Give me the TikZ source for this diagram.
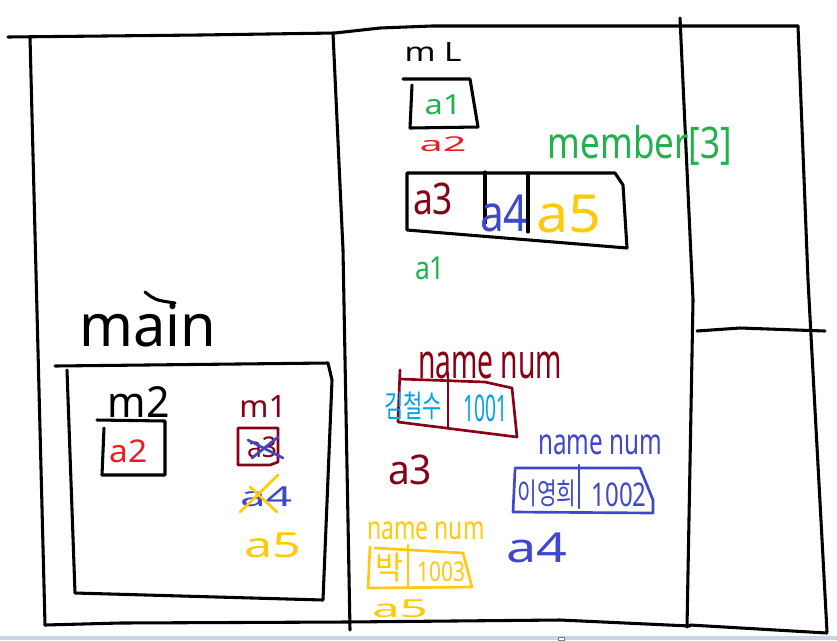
\documentclass[tikz,border=0pt]{standalone}
\usepackage{fontspec}
\usepackage{graphicx}
\setmainfont{Noto Sans}
\newfontfamily\kofont{Noto Sans CJK KR}
\definecolor{pdred}{HTML}{880015}
\definecolor{pred}{HTML}{ED1C24}
\definecolor{pgreen}{HTML}{22B14C}
\definecolor{pblue}{HTML}{3F48CC}
\definecolor{pyellow}{HTML}{FFC90E}
\definecolor{pcyan}{HTML}{00A2E8}
\definecolor{uibar}{HTML}{C9D3E2}
\newlength\pxu
\setlength\pxu{0.75pt}
\newcommand{\fitt}[3]{\resizebox*{#1\pxu}{#2\pxu}{#3}}
\tikzset{
  ink/.style={line width=2.3pt, line cap=round, line join=round, black},
  cink/.style={line width=2pt, line cap=round, line join=round},
  lbl/.style={inner sep=0pt, outer sep=0pt, anchor=center}
}
\begin{document}
\begin{tikzpicture}[x=0.75pt,y=-0.75pt]
\useasboundingbox (0,0) rectangle (837,640);
\fill[white] (0,0) rectangle (837,640);
% window bar
\fill[uibar] (0,636) rectangle (837,640);
\draw[gray, line width=0.5pt, fill=white] (558,637) rectangle (564,640);

% frame
\draw[ink] (8,37) -- (200,35) -- (335,33) -- (380,28) -- (432,26) -- (798,26);
\draw[ink] (30,37) -- (45,625);
\draw[ink] (333,33) -- (343,250) -- (350,630);
\draw[ink] (680,18) -- (693,300) -- (687,627);
\draw[ink] (798,26) -- (808,280) -- (827,632);
\draw[ink] (697,331) -- (740,328) -- (825,331);
\draw[ink] (45,625) -- (120,623) -- (345,622) -- (560,620) -- (690,626);
\draw[ink] (690,625) -- (827,633);

% main
\node[lbl] (maint) at (148,325) {\fitt{137}{44}{main}};
\draw[ink] (145,292) .. controls (155,300) .. (175,303);
\draw[ink] (55,366) -- (328,363) -- (332,380) -- (323,600) -- (75,593) -- (67,370);
\node[lbl] (m2t) at (139,402) {\fitt{62}{31}{m2}};
\draw[ink] (97,420) -- (165,421) -- (165,475) -- (102,475) -- (104,428);
\node[lbl, text=pred] (a2m) at (129,451) {\fitt{38}{23}{a2}};
\node[lbl, text=pdred] (m1t) at (263,406) {\fitt{47}{22}{m1}};
\draw[cink, pdred] (238,428) -- (278,428) -- (278,462) -- (270,465) -- (238,465) -- cycle;
\node[lbl, text=pdred] (a3m) at (262,447) {\fitt{30}{21}{a3}};
\draw[cink, pblue] (248,440) -- (283,458);
\draw[cink, pblue] (252,458) -- (278,437);
\node[lbl, text=pblue] (a4m) at (266,497) {\fitt{52}{20}{a4}};
\draw[cink, pyellow] (240,512) -- (278,475);
\draw[cink, pyellow] (250,487) -- (277,512);
\node[lbl, text=pyellow] (a5m) at (273,545) {\fitt{57}{25}{a5}};

% middle column top
\node[lbl] (mLt) at (433,52) {\fitt{57}{19}{m L}};
\draw[ink] (403,79) -- (470,79) -- (478,127) -- (410,128) -- (412,85);
\node[lbl, text=pgreen] (a1b) at (443,105) {\fitt{37}{20}{a1}};
\node[lbl, text=pred] (a2t) at (443,144) {\fitt{47}{15}{a2}};
\node[lbl, text=pgreen] (memt) at (640,145) {\fitt{184}{40}{member[3]}};
\draw[ink] (407,173) -- (615,173) -- (623,185) -- (627,248) -- (407,230) -- cycle;
\draw[ink] (485,172) -- (485,223);
\draw[ink] (528,173) -- (528,232);
\node[lbl, text=pdred] (a3b) at (433,199) {\fitt{40}{32}{a3}};
\node[lbl, text=pblue] (a4b) at (504,213) {\fitt{48}{37}{a4}};
\node[lbl, text=pyellow] (a5b) at (569,214) {\fitt{65}{38}{a5}};
\node[lbl, text=pgreen] (a1t) at (430,268) {\fitt{30}{23}{a1}};

% a3 struct
\node[lbl, text=pdred] (nn1) at (490,365) {\fitt{144}{27}{name num}};
\draw[cink, pdred] (400,370) -- (398,422) -- (517,437) -- (512,388) -- (485,382) -- (400,379);
\draw[cink, pdred] (448,373) -- (448,428);
\node[lbl, text=pcyan] (k1) at (413,406) {\fitt{58}{28}{\kofont 김철수}};
\node[lbl, text=pcyan] (n1) at (485,408) {\fitt{44}{27}{1001}};
\node[lbl, text=pdred] (a3t) at (410,470) {\fitt{44}{30}{a3}};

% a4 struct
\node[lbl, text=pblue] (nn2) at (600,445) {\fitt{124}{20}{name num}};
\draw[cink, pblue] (515,470) -- (513,512) -- (653,513) -- (653,500) -- (640,468) -- (515,468);
\draw[cink, pblue] (579,465) -- (579,508);
\node[lbl, text=pblue] (k2) at (547,493) {\fitt{59}{27}{\kofont 이영희}};
\node[lbl, text=pblue] (n2) at (619,495) {\fitt{55}{24}{1002}};
\node[lbl, text=pblue] (a4t) at (537,548) {\fitt{61}{30}{a4}};

% a5 struct
\node[lbl, text=pyellow] (nn3) at (426,531) {\fitt{117}{18}{name num}};
\draw[cink, pyellow] (370,547) -- (368,588) -- (472,587) -- (463,553) -- (375,548);
\draw[cink, pyellow] (408,545) -- (408,588);
\node[lbl, text=pyellow] (k3) at (389,567) {\fitt{28}{29}{\kofont 박}};
\node[lbl, text=pyellow] (n3) at (441,572) {\fitt{48}{20}{1003}};
\node[lbl, text=pyellow] (a5t) at (400,609) {\fitt{56}{18}{a5}};
\end{tikzpicture}
\end{document}
